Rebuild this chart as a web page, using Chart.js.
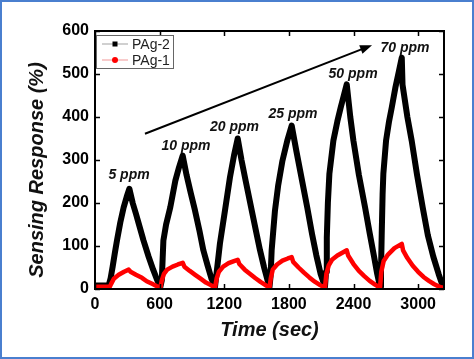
<!DOCTYPE html>
<html><head><meta charset="utf-8">
<script src="https://cdn.jsdelivr.net/npm/chart.js@4/dist/chart.umd.min.js"></script>
<style>html,body{margin:0;padding:0;background:#fff;}#wrap{width:474px;height:359px;position:relative;}</style>
</head><body><div id="wrap"><canvas id="c"></canvas></div>
<script>
// ---- data ----
const timePAg2 = [0,60,127,145,164,185,204,235,266,295,319,
  350,380,406,450,498,540,575,607,
  620,628,635,660,699,746,780,814,
  850,890,928,970,1006,1045,1080,1114,
  1130,1160,1207,1253,1290,1325,
  1360,1400,1455,1500,1532,1570,1600,1620,
  1630,1640,1671,1700,1740,1785,1826,
  1870,1920,1970,2015,2055,2095,2135,
  2145,2152,2162,2176,2213,2250,2281,2310,2337,
  2370,2399,2450,2507,2550,2591,2620,2646,
  2655,2662,2670,2677,2702,2730,2755,2790,2820,2848,
  2855,2900,2940,2990,3042,3090,3141,3190,3231];
const pag2 = [8,8,8,25,52,85,113,155,190,215,233,
  200,175,152,113,75,45,22,5,
  20,70,113,150,190,252,283,310,
  265,222,183,135,90,55,25,5,
  40,106,183,260,310,350,
  300,250,183,128,90,50,22,5,
  30,90,183,240,298,345,380,
  320,255,190,128,78,35,5,
  40,120,200,268,345,390,422,450,476,
  400,345,265,190,130,75,35,5,
  40,130,220,268,345,390,422,470,505,538,
  475,400,345,265,190,125,75,35,5];
const timePAg1 = [0,137,150,175,220,270,313,330,380,436,480,530,570,607,
  620,640,670,720,770,814,830,880,930,980,1030,1075,1114,
  1130,1150,1190,1240,1290,1325,1340,1390,1440,1490,1540,1590,1620,
  1632,1650,1690,1740,1790,1826,1840,1890,1940,1990,2040,2090,2135,
  2148,2170,2200,2250,2300,2337,2350,2400,2450,2500,2550,2600,2646,
  2658,2680,2720,2780,2848,2860,2900,2950,3000,3050,3100,3150,3200,3231];
const pag1 = [5,5,12,24,33,40,45,40,33,26,18,12,7,3,
  20,35,45,52,57,61,52,42,33,24,15,9,3,
  25,40,52,60,65,68,58,45,35,25,16,8,3,
  25,45,57,66,71,74,63,50,38,27,17,9,3,
  35,55,68,78,85,90,78,58,42,30,19,10,3,
  40,65,80,95,105,90,72,54,40,28,19,11,5,3];
const seriesNames = ['PAg-2','PAg-1'];
const xTicks = [0,600,1200,1800,2400,3000];
const yTicks = [0,100,200,300,400,500,600];
const ppmLabels = ['5 ppm','10 ppm','20 ppm','25 ppm','50 ppm','70 ppm'];
const ppmTime = [316,845,1295,1838,2396,2878];
const ppmResp = [264,333,376,407,500,560];
const arrowStart = [464,361];
const arrowEnd = [2572,567];

const toPts = (xs, ys) => xs.map((x, i) => ({x: x, y: ys[i]}));

const decor = {
  id: 'decor',
  afterDraw(chart) {
    const {ctx, chartArea: a, scales: {x, y}} = chart;
    ctx.save();
    // inward ticks on all four sides
    ctx.strokeStyle = '#000'; ctx.lineWidth = 1.5;
    xTicks.forEach(v => {
      const px = Math.round(x.getPixelForValue(v)) + 0.5;
      ctx.beginPath(); ctx.moveTo(px, a.bottom); ctx.lineTo(px, a.bottom - 5);
      ctx.moveTo(px, a.top); ctx.lineTo(px, a.top + 5); ctx.stroke();
    });
    yTicks.forEach(v => {
      const py = Math.round(y.getPixelForValue(v)) + 0.5;
      ctx.beginPath(); ctx.moveTo(a.left, py); ctx.lineTo(a.left + 5, py);
      ctx.moveTo(a.right, py); ctx.lineTo(a.right - 5, py); ctx.stroke();
    });
    // frame of chart area
    ctx.lineWidth = 2;
    ctx.strokeRect(a.left, a.top, a.right - a.left, a.bottom - a.top);
    // arrow
    const x0 = x.getPixelForValue(arrowStart[0]), y0 = y.getPixelForValue(arrowStart[1]);
    const x1 = x.getPixelForValue(arrowEnd[0]), y1 = y.getPixelForValue(arrowEnd[1]);
    const ang = Math.atan2(y1 - y0, x1 - x0);
    ctx.lineWidth = 2; ctx.fillStyle = '#000';
    ctx.beginPath(); ctx.moveTo(x0, y0);
    ctx.lineTo(x1 - 8 * Math.cos(ang), y1 - 8 * Math.sin(ang)); ctx.stroke();
    ctx.beginPath(); ctx.moveTo(x1, y1);
    ctx.lineTo(x1 - 12 * Math.cos(ang) + 4.5 * Math.sin(ang), y1 - 12 * Math.sin(ang) - 4.5 * Math.cos(ang));
    ctx.lineTo(x1 - 12 * Math.cos(ang) - 4.5 * Math.sin(ang), y1 - 12 * Math.sin(ang) + 4.5 * Math.cos(ang));
    ctx.closePath(); ctx.fill();
    // ppm labels
    ctx.font = 'italic bold 14px "Liberation Sans", Arial, sans-serif';
    ctx.textAlign = 'center'; ctx.textBaseline = 'middle'; ctx.fillStyle = '#111';
    ppmLabels.forEach((t, i) => ctx.fillText(t, x.getPixelForValue(ppmTime[i]), y.getPixelForValue(ppmResp[i])));
    // y-axis title
    ctx.save();
    ctx.translate(37, 170); ctx.rotate(-Math.PI / 2);
    ctx.font = 'italic bold 20px "Liberation Sans", Arial, sans-serif';
    ctx.fillText('Sensing Response (%)', 0, 0);
    ctx.restore();
    // legend
    const lx = a.left + 1, ly = 35, lw = 77, lh = 33;
    ctx.fillStyle = '#fff'; ctx.fillRect(lx, ly, lw, lh);
    ctx.strokeStyle = '#666'; ctx.lineWidth = 1;
    ctx.strokeRect(lx + 0.5, ly + 0.5, lw, lh);
    const rows = [
      {name: seriesNames[0], line: '#b0b0b0', mk: '#000', sq: true, yy: 44},
      {name: seriesNames[1], line: '#f4a8a8', mk: '#ff0000', sq: false, yy: 60}
    ];
    ctx.font = '14px "Liberation Sans", Arial, sans-serif';
    ctx.textAlign = 'left';
    rows.forEach(r => {
      ctx.strokeStyle = r.line; ctx.lineWidth = 1.2;
      ctx.beginPath(); ctx.moveTo(lx + 6, r.yy); ctx.lineTo(lx + 32, r.yy); ctx.stroke();
      ctx.fillStyle = r.mk;
      if (r.sq) ctx.fillRect(lx + 16.5, r.yy - 2.5, 5, 5);
      else { ctx.beginPath(); ctx.arc(lx + 19, r.yy, 3, 0, Math.PI * 2); ctx.fill(); }
      ctx.fillStyle = '#222';
      ctx.fillText(r.name, lx + 36, r.yy + 1);
    });
    ctx.restore();
    // outer blue frame
    ctx.save();
    ctx.strokeStyle = '#4a7fcf'; ctx.lineWidth = 2;
    ctx.strokeRect(1, 1, chart.width - 2, chart.height - 2);
    ctx.restore();
  }
};

new Chart(document.getElementById('c'), {
  type: 'line',
  data: {
    datasets: [
      {label: seriesNames[0], data: toPts(timePAg2, pag2), borderColor: '#000', backgroundColor: '#000',
       borderWidth: 6, pointRadius: 0, tension: 0, borderJoinStyle: 'round', order: 2},
      {label: seriesNames[1], data: toPts(timePAg1, pag1), borderColor: '#ff0000', backgroundColor: '#ff0000',
       borderWidth: 4.5, pointRadius: 0, tension: 0, borderJoinStyle: 'round', order: 1}
    ]
  },
  options: {
    responsive: true, maintainAspectRatio: false, animation: false,
    layout: {padding: {top: 31, right: 30, left: 0, bottom: 0}},
    plugins: {legend: {display: false}, tooltip: {enabled: false}},
    scales: {
      x: {
        type: 'linear', min: 0, max: 3240,
        afterBuildTicks: s => { s.ticks = xTicks.map(v => ({value: v})); },
        afterFit: s => { s.height = 70; },
        ticks: {color: '#000', padding: 6, callback: v => String(v),
          font: {family: '"Liberation Sans", Arial, sans-serif', size: 16, weight: 'bold'}},
        grid: {drawOnChartArea: false, drawTicks: false},
        border: {display: true, color: '#000', width: 2},
        title: {display: true, text: 'Time (sec)', color: '#111',
          font: {family: '"Liberation Sans", Arial, sans-serif', size: 20, weight: 'bold', style: 'italic'},
          padding: {top: 0, bottom: 17}}
      },
      y: {
        type: 'linear', min: 0, max: 600,
        afterBuildTicks: s => { s.ticks = yTicks.map(v => ({value: v})); },
        afterFit: s => { s.width = 95; },
        ticks: {color: '#000', padding: 6, callback: v => String(v),
          font: {family: '"Liberation Sans", Arial, sans-serif', size: 16, weight: 'bold'}},
        grid: {drawOnChartArea: false, drawTicks: false},
        border: {display: true, color: '#000', width: 2}
      }
    }
  },
  plugins: [decor]
});
</script></body></html>
